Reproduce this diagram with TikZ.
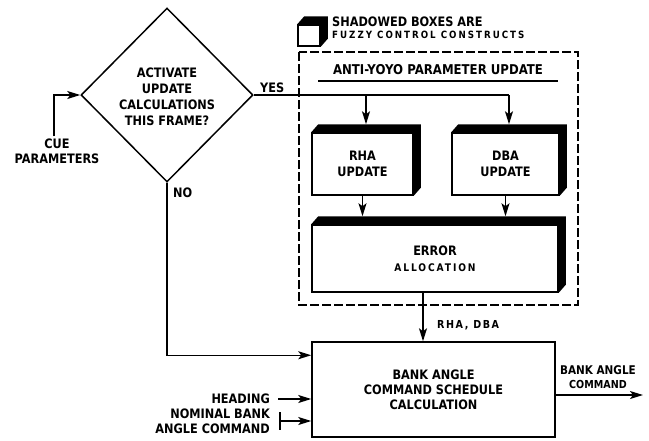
\documentclass[tikz,border=0pt]{standalone}
\usepackage{fontspec}
\setsansfont{DejaVu Sans}[FakeStretch=0.87]
\usetikzlibrary{shapes.geometric,arrows.meta,calc}
\begin{document}
\begin{tikzpicture}[x=1pt,y=-1pt,
  lw/.style={line width=1.5pt},
  arr/.style={lw,-{Stealth[length=13pt,width=8pt,inset=3pt]}},
  txt/.style={font=\sffamily\bfseries\fontsize{13}{16}\selectfont, inner sep=0pt, align=center},
  box/.style={draw, lw, inner sep=0pt, txt},
]
\useasboundingbox (0,0) rectangle (649,440);
% decision diamond
\node[draw, lw, diamond, minimum width=172pt, minimum height=174pt, inner sep=0pt] (dia) at (167,95) {};
\node[txt] (diat) at (167,97) {ACTIVATE\\UPDATE\\CALCULATIONS\\THIS FRAME?};
\node[txt, font=\sffamily\bfseries\fontsize{13}{15}\selectfont] (cue) at (57,151) {CUE\\PARAMETERS};
\draw[arr] ([xshift=-3pt,yshift=2pt]cue.north) |- (dia.west);
\node[txt, anchor=south west] (yes) at (260,93) {YES};
\node[txt, anchor=north west] (no) at (173,188) {NO};
% legend
\node[draw, lw, minimum width=22pt, minimum height=21pt, inner sep=0pt] (leg) at (309,35.5) {};
\node[txt, anchor=west] (legt1) at (332,22) {SHADOWED BOXES ARE};
\node[anchor=west, inner sep=0pt, font=\sffamily\bfseries\fontsize{10}{10}\selectfont\addfontfeature{LetterSpace=20}] (legt2) at (332,35) {FUZZY CONTROL CONSTRUCTS};
% dashed group
\draw[lw, dash pattern=on 9pt off 3pt] (299,52) rectangle (578,305);
\node[txt, font=\sffamily\bfseries\fontsize{13.5}{16}\selectfont] (title) at (438,70) {ANTI-YOYO PARAMETER UPDATE};
\draw[lw] (318,81) -- (558,81);
% boxes
\node[box, minimum width=101pt, minimum height=62pt] (rha) at (362.5,164) {RHA\\UPDATE};
\node[box, minimum width=107pt, minimum height=62pt] (dba) at (505.5,164) {DBA\\UPDATE};
\node[box, minimum width=246pt, minimum height=67pt] (err) at (435,258.5) {ERROR\\{\fontsize{10.5}{12}\selectfont\addfontfeature{LetterSpace=18}ALLOCATION}};
\node[box, minimum width=243pt, minimum height=95pt, font=\sffamily\bfseries\fontsize{13}{15}\selectfont] (bank) at (433.5,389.5) {BANK ANGLE\\COMMAND SCHEDULE\\CALCULATION};
% shadows
\foreach \n in {rha,dba,err,leg}
  \fill (\n.north west) -- ++(7,-8) -- ($(\n.north east)+(7,-8)$) -- ($(\n.south east)+(7,-8)$) -- (\n.south east) -- (\n.north east) -- cycle;
% connectors
\coordinate (rhatop) at ($(rha.north)+(3.5,-8)$);
\coordinate (dbatop) at ($(dba.north)+(3.5,-8)$);
\coordinate (yesend) at (dia.east -| dbatop);
\draw[lw] (dia.east) -- (yesend);
\draw[arr] (yesend) -- (dbatop);
\draw[arr] (dia.east -| rhatop) -- (rhatop);
\coordinate (errtop) at ($(err.north)+(0,-8)$);
\draw[arr] (rha.south) -- (rha.south |- errtop);
\draw[arr] (dba.south) -- (dba.south |- errtop);
\coordinate (errout) at ([xshift=-12pt]err.south);
\draw[arr] (errout) -- (errout |- bank.north);
\node[txt, anchor=west, font=\sffamily\bfseries\fontsize{11}{12}\selectfont\addfontfeature{LetterSpace=14}] (rd) at (437,325) {RHA, DBA};
\draw[arr] (dia.south) |- ([yshift=-14pt]bank.north west);
\node[txt, anchor=east] (hd) at (270,399) {HEADING};
\draw[arr] ([xshift=8pt]hd.east) -- (hd.east -| bank.west);
\node[txt, anchor=east, align=right, font=\sffamily\bfseries\fontsize{13}{15}\selectfont] (nom) at (270,421) {NOMINAL BANK\\ANGLE COMMAND};
\coordinate (nb) at ([xshift=10pt]nom.east);
\draw[lw] ([yshift=9pt]nb) -- ([yshift=-9pt]nb);
\draw[arr] (nb) -- (nb -| bank.west);
\coordinate (outend) at (643,395);
\draw[arr] (bank.east |- outend) -- (outend);
\node[txt, font=\sffamily\bfseries\fontsize{12}{14}\selectfont] (outl) at (598,377) {BANK ANGLE\\{\fontsize{11}{12}\selectfont COMMAND}};
\end{tikzpicture}
\end{document}
